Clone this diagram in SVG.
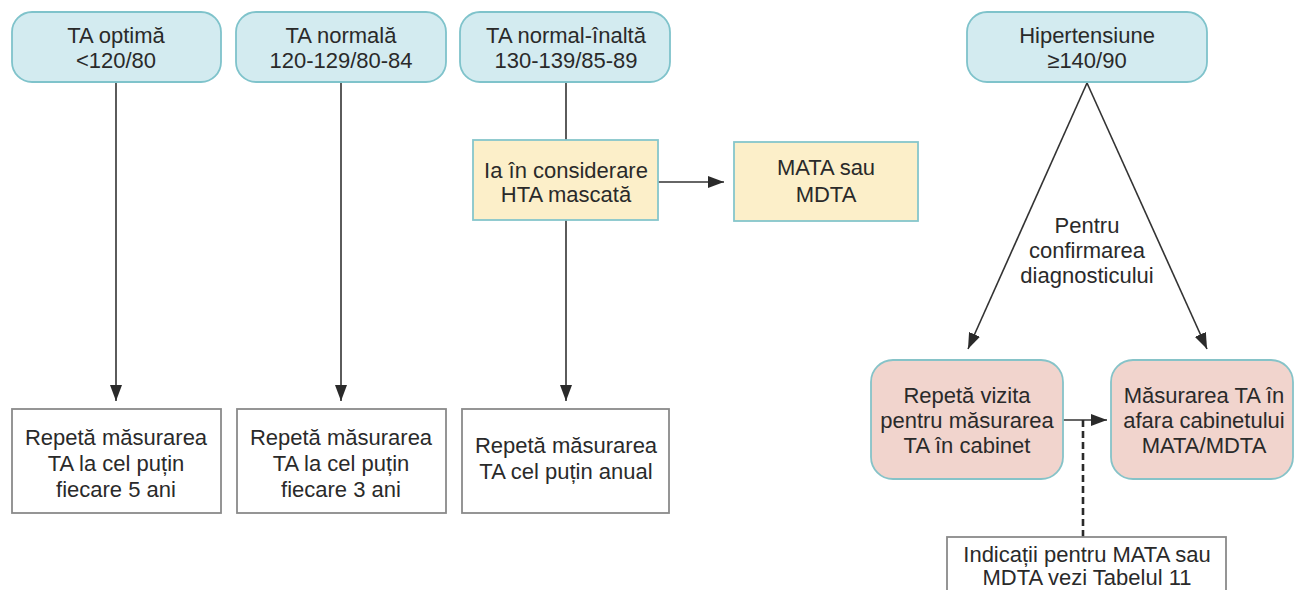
<svg xmlns="http://www.w3.org/2000/svg" width="1295" height="590" viewBox="0 0 1295 590">
  <style>
    text { font-family: "Liberation Sans", Arial, sans-serif; font-size: 22px; fill: #2a2a2a; text-anchor: middle; }
    .cat { fill: #d3ebf0; stroke: #7fc3cb; stroke-width: 1.8; }
    .note { fill: #fcefc9; stroke: #86c6cb; stroke-width: 1.8; }
    .step { fill: #f1d4cd; stroke: #86c3c8; stroke-width: 1.8; }
    .plain { fill: #ffffff; stroke: #8a8a8a; stroke-width: 1.8; }
    .line { fill: none; stroke: #333333; stroke-width: 1.6; }
    .dash { fill: none; stroke: #2a2a2a; stroke-width: 2.6; stroke-dasharray: 7 4; }
  </style>
  <defs>
    <marker id="arrow" viewBox="0 0 16 12" refX="16" refY="6" markerWidth="16" markerHeight="12" markerUnits="userSpaceOnUse" orient="auto">
      <path d="M0,0 L16,6 L0,12 Z" fill="#2a2a2a"/>
    </marker>
  </defs>

  <rect width="1295" height="590" fill="#ffffff"/>

  <!-- connectors -->
  <g id="connectors">
    <line class="line" x1="116" y1="82" x2="116" y2="401" marker-end="url(#arrow)"/>
    <line class="line" x1="341" y1="82" x2="341" y2="401" marker-end="url(#arrow)"/>
    <line class="line" x1="566" y1="82" x2="566" y2="140"/>
    <line class="line" x1="566" y1="220" x2="566" y2="401" marker-end="url(#arrow)"/>
    <line class="line" x1="658" y1="182" x2="724" y2="182" marker-end="url(#arrow)"/>
    <line class="line" x1="1087" y1="83" x2="968" y2="349" marker-end="url(#arrow)"/>
    <line class="line" x1="1087" y1="83" x2="1207" y2="349" marker-end="url(#arrow)"/>
    <line class="line" x1="1063" y1="420" x2="1107" y2="420" marker-end="url(#arrow)"/>
    <line class="dash" x1="1083" y1="420" x2="1083" y2="537"/>
  </g>

  <!-- blood pressure categories -->
  <g id="optimal">
    <rect class="cat" x="12" y="12" width="209" height="70" rx="20"/>
    <text x="116" y="43">TA optimă</text>
    <text x="116" y="68">&lt;120/80</text>
  </g>
  <g id="normal">
    <rect class="cat" x="236" y="12" width="210" height="70" rx="20"/>
    <text x="341" y="43">TA normală</text>
    <text x="341" y="68">120-129/80-84</text>
  </g>
  <g id="high-normal">
    <rect class="cat" x="460" y="12" width="210" height="70" rx="20"/>
    <text x="566" y="43">TA normal-înaltă</text>
    <text x="566" y="68">130-139/85-89</text>
  </g>
  <g id="hypertension">
    <rect class="cat" x="967" y="12" width="240" height="70" rx="20"/>
    <text x="1087" y="43">Hipertensiune</text>
    <text x="1087" y="68">≥140/90</text>
  </g>

  <!-- masked hypertension -->
  <g id="masked">
    <rect class="note" x="473" y="140" width="185" height="80"/>
    <text x="566" y="178">Ia în considerare</text>
    <text x="566" y="202">HTA mascată</text>
  </g>
  <g id="mata-mdta">
    <rect class="note" x="734" y="142" width="184" height="79"/>
    <text x="826" y="175">MATA sau</text>
    <text x="826" y="202">MDTA</text>
  </g>

  <!-- follow-up intervals -->
  <g id="repeat-5">
    <rect class="plain" x="12" y="409" width="209" height="104"/>
    <text x="116" y="445">Repetă măsurarea</text>
    <text x="116" y="471">TA la cel puțin</text>
    <text x="116" y="497">fiecare 5 ani</text>
  </g>
  <g id="repeat-3">
    <rect class="plain" x="237" y="409" width="209" height="104"/>
    <text x="341" y="445">Repetă măsurarea</text>
    <text x="341" y="471">TA la cel puțin</text>
    <text x="341" y="497">fiecare 3 ani</text>
  </g>
  <g id="repeat-1">
    <rect class="plain" x="462" y="409" width="207" height="104"/>
    <text x="566" y="453">Repetă măsurarea</text>
    <text x="566" y="479">TA cel puțin anual</text>
  </g>

  <!-- diagnosis confirmation -->
  <g id="confirm-label">
    <text x="1087" y="233">Pentru</text>
    <text x="1087" y="258">confirmarea</text>
    <text x="1087" y="283">diagnosticului</text>
  </g>
  <g id="office-visit">
    <rect class="step" x="871" y="360" width="192" height="119" rx="22"/>
    <text x="967" y="403">Repetă vizita</text>
    <text x="967" y="428">pentru măsurarea</text>
    <text x="967" y="453">TA în cabinet</text>
  </g>
  <g id="out-of-office">
    <rect class="step" x="1111" y="360" width="182" height="119" rx="22"/>
    <text x="1204" y="403">Măsurarea TA în</text>
    <text x="1204" y="428">afara cabinetului</text>
    <text x="1204" y="453">MATA/MDTA</text>
  </g>
  <g id="indications">
    <rect class="plain" x="947" y="537" width="279" height="70"/>
    <text x="1087" y="562">Indicații pentru MATA sau</text>
    <text x="1087" y="585">MDTA vezi Tabelul 11</text>
  </g>
</svg>
